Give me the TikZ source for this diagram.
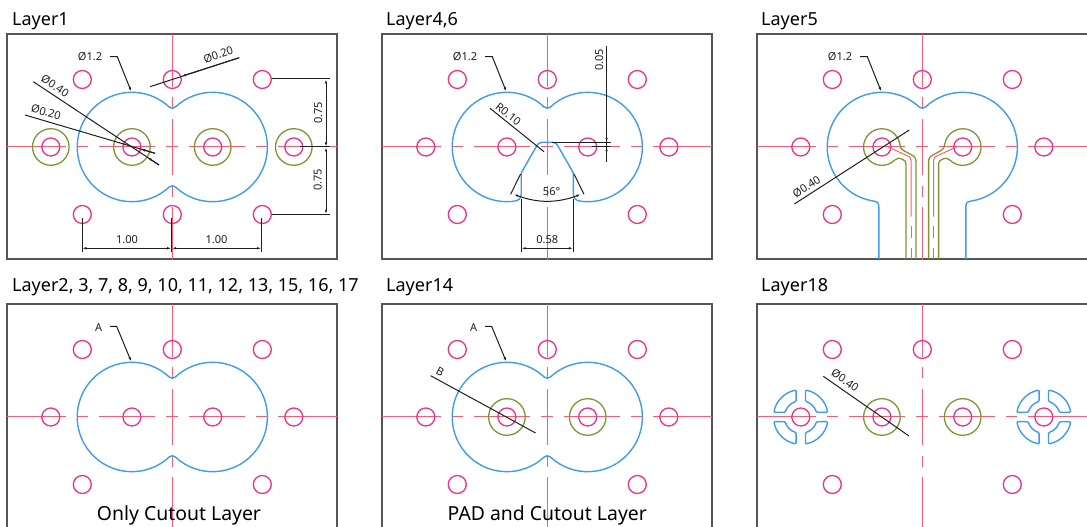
\documentclass[tikz,border=0pt]{standalone}
\usepackage{fontspec}
\setmainfont{Noto Sans}
\usetikzlibrary{arrows.meta}

\definecolor{holepink}{HTML}{F0308A}
\definecolor{axisred}{HTML}{FF5B70}
\definecolor{cutblue}{HTML}{3D9BF2}
\definecolor{padgreen}{HTML}{7E9632}
\definecolor{framegrey}{HTML}{555555}
\definecolor{dimgrey}{HTML}{1E1E1E}

\tikzset{
  panel/.style={draw=framegrey,line width=1.8pt},
  axis/.style={draw=axisred,line width=1pt},
  hole/.style={draw=holepink,line width=1.3pt},
  pad/.style={draw=padgreen,line width=1.3pt},
  cutout/.style={draw=cutblue,line width=1.4pt},
  leader/.style={draw=dimgrey,line width=1pt},
  dimtip/.style={{Latex[length=4.5pt,width=2.5pt]}-{Latex[length=4.5pt,width=2.5pt]},draw=dimgrey,line width=1pt},
  leadtip/.style={-{Latex[length=4.5pt,width=2.5pt]},draw=dimgrey,line width=1pt},
  title/.style={anchor=base west,inner sep=0pt,font=\fontsize{18}{20}\selectfont},
  note/.style={inner sep=0pt,text=black,font=\fontsize{19.4}{22}\selectfont},
  dimtext/.style={inner sep=0pt,text=dimgrey,font=\fontsize{11}{12}\selectfont}
}

\newcommand{\panelframe}[1]{\draw[panel] (-165.3,-112) rectangle (#1,113);}
\newcommand{\axislines}{
  \foreach \xa/\xb in {-165/-106,-95/-84,-73/-17,-6/6,17/73,84/95,106/165}
    \draw[axis] (\xa,0) -- (\xb,0);
  \foreach \ya/\yb in {113/60,50/39,28/-28,-39/-50,-60/-113}
    \draw[axis] (0,\ya) -- (0,\yb);
}
\newcommand{\drillholes}{
  \foreach \hx/\hy in {-90/67.5,0/67.5,90/67.5,-121.5/0,-40.4/0,40.4/0,121.5/0,-90/-67.5,90/-67.5}
    \draw[hole] (\hx,\hy) circle (9);
}
\newcommand{\padrings}[1]{
  \foreach \px in {#1}
    \draw[pad] (\px,0) circle (18.3);
}
\newcommand{\fullcutout}{
  \draw[cutout] (-3.07,39.98) arc (46.96:313.04:54.7) arc (133:47:4.5)
    arc (226.96:493.04:54.7) arc (-47:-133:4.5) -- cycle;
}
\newcommand{\thermal}[1]{
  \foreach \ang in {0,90,180,270}
    \draw[cutout,rounded corners=1pt,shift={(#1,0)},rotate=\ang]
      (99.9:27.3) arc (99.9:170.1:27.3) -- (163.2:16.3) arc (163.2:106.8:16.3) -- cycle;
}

\begin{document}
\begin{tikzpicture}[x=1pt,y=1pt]
  \useasboundingbox (0,0) rectangle (1087,527);

  \node[title] (tone) at (12,501) {Layer1};
  \node[title] (tfour) at (386,501) {Layer4,6};
  \node[title] (tfive) at (761,501) {Layer5};
  \node[title] (ttwo) at (12,235.5) {Layer2, 3, 7, 8, 9, 10, 11, 12, 13, 15, 16, 17};
  \node[title] (tfourteen) at (386,235.5) {Layer14};
  \node[title] (teighteen) at (761,235.5) {Layer18};

  % Layer1
  \begin{scope}[shift={(172.3,380)}]
    \panelframe{164.7}
    \axislines
    \padrings{-121.5,-40.4,40.4,121.5}
    \drillholes
    \draw[hole] (0,-67.5) circle (9);
    \fullcutout
    \node[dimtext] (onedia) at (-82.3,90.3) {Ø1.2};
    \draw[leadtip] (-62.3,90.3) -- (-55,90.3) -- (-41,55.3);
    \node[dimtext,rotate=18] (onetop) at (46,92) {Ø0.20};
    \draw[leader] (-22.3,60.3) -- (67,89.3);
    \draw[leadtip] (67,89.3) -- (9,70.6);
    \node[dimtext,rotate=-33.5] (oneouter) at (-117.3,61) {Ø0.40};
    \draw[leader] (-139,65.3) -- (-13.3,-18);
    \draw[leadtip] (-13.3,-18) -- (-25,-10.2);
    \node[dimtext,rotate=-16] (oneinner) at (-126.3,34.7) {Ø0.20};
    \draw[leader] (-147.3,32) -- (-17.3,-6.3);
    \draw[leadtip] (-17.3,-6.3) -- (-31.5,-2.1);
    \draw[leader] (99.3,68) -- (157.7,68);
    \draw[leader] (127.7,0) -- (157.7,0);
    \draw[leader] (99.3,-67.3) -- (157.7,-67.3);
    \draw[dimtip] (153.7,68) -- (153.7,0);
    \draw[dimtip] (153.7,0) -- (153.7,-67.3);
    \node[dimtext,rotate=90] (oneup) at (146,34.3) {0.75};
    \node[dimtext,rotate=90] (onedown) at (145.3,-33) {0.75};
    \draw[leader] (-90.3,-71.3) -- (-90.3,-105.3);
    \draw[leader] (-0.7,-71.3) -- (-0.7,-105.3);
    \draw[leader] (89.3,-71.3) -- (89.3,-105.3);
    \draw[dimtip] (-90.3,-101.3) -- (-0.7,-101.3);
    \draw[dimtip] (-0.7,-101.3) -- (89.3,-101.3);
    \node[dimtext] (oneleft) at (-45.3,-93) {1.00};
    \node[dimtext] (oneright) at (44.3,-93) {1.00};
  \end{scope}

  % Layer4,6
  \begin{scope}[shift={(547.3,380)}]
    \panelframe{164.7}
    \axislines
    \drillholes
    \draw[cutout] (-3.07,39.98) arc (46.96:275:54.7)
      .. controls (-29,-54) and (-26.1,-52) .. (-26.1,-47) -- (-26.1,-26) -- (-12,-1.3)
      .. controls (-9.5,3.2) and (-8,4.7) .. (-5.6,4.7) -- (5.6,4.7)
      .. controls (8,4.7) and (9.5,3.2) .. (12,-1.3) -- (26.1,-26) -- (26.1,-47)
      .. controls (26.1,-52) and (29,-54) .. (35.6,-54.5)
      arc (265:493.04:54.7) arc (-47:-133:4.5) -- cycle;
    \node[dimtext] (fourdia) at (-82.3,90.3) {Ø1.2};
    \draw[leadtip] (-62.3,90.3) -- (-55,90.3) -- (-41,55.3);
    \node[dimtext,rotate=-38] (fourrad) at (-39,33) {R0.10};
    \draw[leader] (-57.3,38.7) -- (-3.3,-4.7);
    \node[dimtext,rotate=90] (fourgap) at (52,87) {0.05};
    \draw[leader] (59.3,101) -- (59.3,-15.3);
    \draw[leadtip] (59.3,15) -- (59.3,4.7);
    \draw[leadtip] (59.3,-10) -- (59.3,0.3);
    \draw[leader] (4.3,4.7) -- (63.7,4.7);
    \draw[leader] (44.3,0.3) -- (63.7,0.3);
    \draw[leader] (-26.7,-27) -- (-36.7,-47.3);
    \draw[leader] (26.7,-27) -- (36.7,-47.3);
    \draw[dimtip] (-33.5,-47.3) .. controls (-10,-56.2) and (10,-56.2) .. (33.5,-47.3);
    \node[dimtext] (fourang) at (4.3,-44.7) {56°};
    \draw[leader] (-26.1,-52) -- (-26.1,-105.3);
    \draw[leader] (26.1,-52) -- (26.1,-105.3);
    \draw[dimtip] (-26.1,-101.3) -- (26.1,-101.3);
    \node[dimtext] (fourwide) at (0,-93) {0.58};
  \end{scope}

  % Layer5
  \begin{scope}[shift={(922.3,380)}]
    \panelframe{170}
    \axislines
    \drillholes
    \draw[cutout] (-43.5,-112) -- (-43.5,-60) .. controls (-43.5,-55.5) and (-45,-54.5) .. (-49.9,-53.9)
      arc (260:46.96:54.7) arc (-133:-47:4.5) arc (133.04:-80:54.7)
      .. controls (45,-54.5) and (43.5,-55.5) .. (43.5,-60) -- (43.5,-112);
    \foreach \side in {1,-1} {
      \begin{scope}[xscale=\side]
        \draw[pad] (-16.3,-112) -- (-16.3,-19) .. controls (-16.3,-13) and (-18,-13.5) .. (-20.5,-12)
          .. controls (-23,-10.5) and (-25,-11) .. (-27.5,-13)
          arc (-45:-350:18.3)
          .. controls (-22,-0.5) and (-21,-2.5) .. (-19,-3.4) -- (-10.6,-8)
          .. controls (-7.5,-9.5) and (-6.3,-11.5) .. (-6.3,-15) -- (-6.3,-112);
        \draw[axis] (-34,0) -- (-12.5,-10) -- (-11.3,-13) -- (-11.3,-69.7);
        \draw[axis] (-11.3,-79.3) -- (-11.3,-91);
        \draw[axis] (-11.3,-101) -- (-11.3,-112);
      \end{scope}
    }
    \node[dimtext] (fivedia) at (-82.3,90.3) {Ø1.2};
    \draw[leadtip] (-62.3,90.3) -- (-55,90.3) -- (-41,55.3);
    \node[dimtext,rotate=33] (fivepad) at (-115.7,-39.7) {Ø0.40};
    \draw[leader] (-128,-57) -- (-13,17);
  \end{scope}

  % Layer2, 3, 7 ...
  \begin{scope}[shift={(172.3,110)}]
    \panelframe{164.7}
    \axislines
    \drillholes
    \fullcutout
    \node[dimtext] (twoa) at (-73.7,89.3) {A};
    \draw[leadtip] (-62.3,90.7) -- (-55.7,90.7) -- (-41,55.3);
    \node[note] (twonote) at (6.7,-98) {Only Cutout Layer};
  \end{scope}

  % Layer14
  \begin{scope}[shift={(547.3,110)}]
    \panelframe{164.7}
    \axislines
    \padrings{-40.4,40.4}
    \drillholes
    \fullcutout
    \node[dimtext] (fourteena) at (-73.7,89.3) {A};
    \draw[leadtip] (-62.3,90.7) -- (-55.7,90.7) -- (-41,55.3);
    \node[dimtext,rotate=-28] (fourteenb) at (-107.3,45) {B};
    \draw[leader] (-116.7,41.3) -- (-11.7,-16);
    \node[note] (fourteennote) at (0,-98) {PAD and Cutout Layer};
  \end{scope}

  % Layer18
  \begin{scope}[shift={(922.3,110)}]
    \panelframe{170}
    \axislines
    \padrings{-40.4,40.4}
    \drillholes
    \thermal{-121.5}
    \thermal{121.5}
    \node[dimtext,rotate=-35] (eighteendia) at (-77.3,36.7) {Ø0.40};
    \draw[leader] (-99,40.7) -- (-13.3,-19);
  \end{scope}
\end{tikzpicture}
\end{document}
